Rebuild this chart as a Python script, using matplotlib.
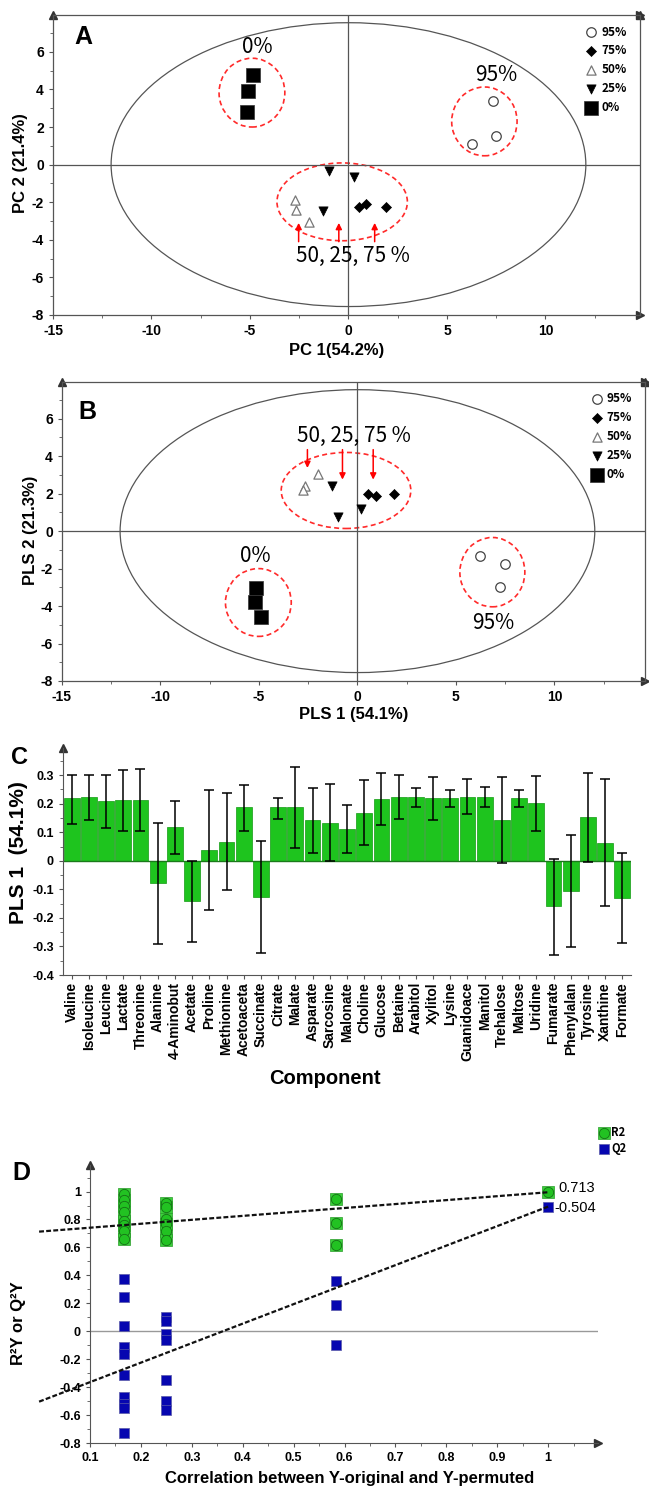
import numpy as np
import matplotlib
matplotlib.use("Agg")
import matplotlib.pyplot as plt
from matplotlib.patches import Ellipse
from matplotlib.ticker import MultipleLocator

plt.rcParams['font.family'] = ['Liberation Sans', 'DejaVu Sans']
plt.rcParams['font.weight'] = 'bold'
plt.rcParams['axes.unicode_minus'] = False
KR = ['Noto Sans CJK KR', 'DejaVu Sans']

# ---------------- data ----------------
groups = ["95%", "75%", "50%", "25%", "0%"]

# panel A : PCA scores (one list per group, same order as groups)
pca_x = [[7.32, 7.51, 6.27], [0.55, 0.89, 1.90], [-2.72, -2.68, -1.98],
         [-0.99, 0.27, -1.29], [-4.85, -5.10, -5.15]]
pca_y = [[3.38, 1.53, 1.08], [-2.23, -2.10, -2.28], [-1.87, -2.43, -3.06],
         [-0.34, -0.67, -2.46], [4.77, 3.92, 2.79]]
# panel B : PLS-DA scores
pls_x = [[6.22, 7.47, 7.25], [0.54, 0.93, 1.86], [-1.98, -2.66, -2.76],
         [-1.30, -1.00, 0.17], [-5.17, -5.20, -4.90]]
pls_y = [[-1.31, -1.77, -2.97], [1.98, 1.88, 1.96], [3.07, 2.41, 2.20],
         [2.41, 0.77, 1.20], [-3.05, -3.80, -4.60]]

hotelling_a = 12.05
hotelling_b = 7.55

# red dashed group ellipses: (cx, cy, half-width, half-height)
a_circles = [(-4.9, 3.83, 1.67, 1.83), (6.9, 2.3, 1.66, 1.83), (-0.32, -1.98, 3.31, 2.07)]
b_circles = [(-0.58, 2.17, 3.29, 2.03), (-5.03, -3.81, 1.67, 1.81), (6.85, -2.19, 1.65, 1.85)]
a_notes = [("0%", -4.64, 6.26), ("95%", 7.49, 4.77), ("50, 25, 75 %", 0.21, -4.84)]
b_notes = [("50, 25, 75 %", -0.17, 5.09), ("0%", -5.17, -1.34), ("95%", 6.92, -4.90)]
a_arrows_x = [-2.53, -0.49, 1.33]
a_arrows_y = [(-4.10, -3.10), (-4.10, -3.10), (-4.10, -3.10)]
b_arrows_x = [-2.54, -0.76, 0.80]
b_arrows_y = [(4.35, 3.37), (4.35, 2.75), (4.35, 2.75)]

# panel C : PLS1 loadings with error bounds
metabolites = ["Valine", "Isoleucine", "Leucine", "Lactate", "Threonine", "Alanine",
               "4-Aminobut", "Acetate", "Proline", "Methionine", "Acetoaceta", "Succinate",
               "Citrate", "Malate", "Asparate", "Sarcosine", "Malonate", "Choline",
               "Glucose", "Betaine", "Arabitol", "Xylitol", "Lysine", "Guanidoace",
               "Manitol", "Trehalose", "Maltose", "Uridine", "Fumarate", "Phenylalan",
               "Tyrosine", "Xanthine", "Formate"]
loading = [0.219, 0.223, 0.209, 0.212, 0.212, -0.078, 0.119, -0.141, 0.037, 0.067, 0.187,
           -0.128, 0.187, 0.190, 0.142, 0.133, 0.112, 0.169, 0.217, 0.223, 0.223, 0.219,
           0.219, 0.225, 0.225, 0.142, 0.219, 0.202, -0.160, -0.106, 0.154, 0.064, -0.132]
err_high = [0.301, 0.301, 0.301, 0.319, 0.322, 0.132, 0.211, 0.000, 0.249, 0.236, 0.265,
            0.069, 0.221, 0.330, 0.254, 0.268, 0.196, 0.284, 0.306, 0.300, 0.254, 0.295,
            0.249, 0.286, 0.259, 0.292, 0.249, 0.298, 0.006, 0.089, 0.307, 0.287, 0.026]
err_low = [0.130, 0.142, 0.114, 0.106, 0.104, -0.291, 0.025, -0.286, -0.173, -0.102, 0.106,
           -0.323, 0.148, 0.046, 0.027, -0.002, 0.027, 0.054, 0.126, 0.147, 0.189, 0.144,
           0.189, 0.163, 0.189, -0.009, 0.189, 0.106, -0.329, -0.301, -0.003, -0.158, -0.289]

# panel D : permutation test
r2_x = [0.167, 0.167, 0.167, 0.167, 0.167, 0.167, 0.167, 0.167,
        0.25, 0.25, 0.25, 0.25, 0.25, 0.25, 0.583, 0.583, 0.583, 1.0]
r2_y = [0.98, 0.94, 0.90, 0.85, 0.79, 0.76, 0.72, 0.66,
        0.92, 0.89, 0.80, 0.77, 0.72, 0.65, 0.947, 0.773, 0.617, 0.995]
q2_x = [0.167, 0.167, 0.167, 0.167, 0.167, 0.167, 0.167, 0.167, 0.167, 0.167,
        0.25, 0.25, 0.25, 0.25, 0.25, 0.25, 0.25, 0.583, 0.583, 0.583, 1.0]
q2_y = [0.371, 0.246, 0.041, -0.112, -0.16, -0.316, -0.47, -0.52, -0.55, -0.725,
        0.103, 0.074, -0.017, -0.065, -0.352, -0.50, -0.567, 0.361, 0.187, -0.096, 0.892]
r2_intercept = 0.713
q2_intercept = -0.504

# ---------------- layout helpers ----------------
W, H = 649, 1488
fig = plt.figure(figsize=(W / 100, H / 100), dpi=100)


def box(l, t, r, b):
    return [l / W, 1 - b / H, (r - l) / W, (b - t) / H]


def ftext(px, py, s, **kw):
    fig.text(px / W, 1 - py / H, s, ha='center', va='center', **kw)


def arrow_ends(ax, ends):
    for x, y, m in ends:
        ax.plot(x, y, marker=m, color='#333', ms=6, transform=ax.transAxes, clip_on=False)


styles = [dict(marker='o', s=47, facecolors='white', edgecolors='#444', linewidths=0.9),
          dict(marker='D', s=26, facecolors='black', edgecolors='black', linewidths=0.5),
          dict(marker='^', s=44, facecolors='white', edgecolors='#777', linewidths=0.9),
          dict(marker='v', s=44, facecolors='black', edgecolors='black', linewidths=0.5),
          dict(marker='s', s=88, facecolors='black', edgecolors='#333', linewidths=0.5)]


def score_panel(ax, xs, ys, circles, notes, arr_x, arr_y, xlim, ylim, leg_anchor):
    ax.set_xlim(xlim)
    ax.set_ylim(ylim)
    ax.add_patch(Ellipse((0, 0), 2 * hotelling_a, 2 * hotelling_b, fill=False,
                         ec='#555', lw=0.9))
    ax.axhline(0, color='#555', lw=0.9)
    ax.axvline(0, color='#555', lw=0.9)
    for cx, cy, a, b in circles:
        ax.add_patch(Ellipse((cx, cy), 2 * a, 2 * b, fill=False, ec='#ff2a2a',
                             lw=1.2, ls=(0, (3, 2))))
    hs = []
    for g, x, y, st in zip(groups, xs, ys, styles):
        hs.append(ax.scatter(x, y, label=g, zorder=3, **st))
    for s, x, y in notes:
        ax.text(x, y, s, ha='center', va='center', fontsize=15, family=KR,
                fontweight='normal')
    for x, (y0, y1) in zip(arr_x, arr_y):
        ax.annotate('', xy=(x, y1), xytext=(x, y0),
                    arrowprops=dict(arrowstyle='-|>', color='red', lw=1.1,
                                    mutation_scale=9, shrinkA=0, shrinkB=0))
    ax.legend(handles=hs, loc='upper left', bbox_to_anchor=leg_anchor, frameon=False,
              prop=dict(family=KR, weight='bold', size=8.5), handletextpad=0.25,
              labelspacing=0.5, borderpad=0, borderaxespad=0, handlelength=1.2,
              scatterpoints=1)
    ax.xaxis.set_major_locator(MultipleLocator(5))
    ax.xaxis.set_minor_locator(MultipleLocator(2.5))
    ax.yaxis.set_major_locator(MultipleLocator(2))
    ax.yaxis.set_minor_locator(MultipleLocator(1))
    ax.tick_params(labelsize=10, length=3, color='#555', which='both')
    ax.tick_params(which='minor', length=2)
    for sp in ax.spines.values():
        sp.set_color('#555')
        sp.set_linewidth(0.9)
    arrow_ends(ax, [(0, 1, '^'), (1, 0, '>'), (1, 1, '>'), (1, 1, '^')])


# ---------------- panel A ----------------
axA = fig.add_axes(box(53, 15, 640, 315))
score_panel(axA, pca_x, pca_y, a_circles, a_notes, a_arrows_x, a_arrows_y,
            (-15, 14.8), (-8, 7.96), (0.905, 0.965))
ftext(83, 37, "A", fontsize=18)
ftext(21, 163, "PC 2 (21.4%)", fontsize=12, rotation=90)
ftext(337, 350, "PC 1(54.2%)", fontsize=12)

# ---------------- panel B ----------------
axB = fig.add_axes(box(62, 382, 645, 681))
score_panel(axB, pls_x, pls_y, b_circles, b_notes, b_arrows_x, b_arrows_y,
            (-15, 14.6), (-8, 7.96), (0.905, 0.965))
ftext(87, 412, "B", fontsize=18)
ftext(31, 530, "PLS 2 (21.3%)", fontsize=12, rotation=90)
ftext(354, 715, "PLS 1 (54.1%)", fontsize=12)

# ---------------- panel C ----------------
axC = fig.add_axes(box(63, 748, 631, 975))
pos = np.arange(len(metabolites))
load = np.array(loading)
axC.bar(pos, load, width=0.92, color='#1ec41e', edgecolor='#139a13', lw=0.5, zorder=2)
axC.errorbar(pos, load, yerr=[load - np.array(err_low), np.array(err_high) - load],
             fmt='none', ecolor='black', elinewidth=1.1, capsize=3.5, capthick=1.1, zorder=3)
axC.axhline(0, color='#1a7a1a', lw=1, zorder=2)
axC.set_xlim(-0.5, 32.5)
axC.set_ylim(-0.4, 0.395)
axC.set_xticks(pos)
axC.set_xticklabels(metabolites, rotation=90, fontsize=10)
axC.yaxis.set_minor_locator(MultipleLocator(0.05))
axC.set_yticks([0.3, 0.2, 0.1, 0, -0.1, -0.2, -0.3, -0.4])
axC.set_yticklabels(["0.3", "0.2", "0.1", "0", "-0.1", "-0.2", "-0.3", "-0.4"])
axC.tick_params(axis='y', labelsize=9, length=3, color='#555', which='both')
axC.tick_params(axis='y', which='minor', length=2)
axC.tick_params(axis='x', length=3, color='#555', pad=2)
axC.spines['top'].set_visible(False)
axC.spines['right'].set_visible(False)
for s in ['left', 'bottom']:
    axC.spines[s].set_color('#555')
arrow_ends(axC, [(0, 1, '^')])
ftext(19, 758, "C", fontsize=17)
ftext(19, 853, "PLS 1  (54.1%)", fontsize=15, rotation=90)
ftext(325, 1079, "Component", fontsize=14.5)

# ---------------- panel D ----------------
axD = fig.add_axes(box(90, 1165, 598, 1443))
axD.set_xlim(0.1, 1.098)
axD.set_ylim(-0.8, 1.19)
axD.axhline(0, color='#999', lw=1)
axD.plot([0, r2_x[-1]], [r2_intercept, r2_y[-1]], color='#111', lw=1.6,
         ls=(0, (2.2, 1)), clip_on=False, zorder=4)
axD.plot([0, q2_x[-1]], [q2_intercept, q2_y[-1]], color='#111', lw=1.6,
         ls=(0, (2.2, 1)), clip_on=False, zorder=4)
h_sq = axD.scatter(r2_x, r2_y, marker='s', s=70, c='#3bd23b', edgecolors='#2a9a2a',
                   linewidths=0.5, zorder=2)
h_ci = axD.scatter(r2_x, r2_y, marker='o', s=55, c='#22c222', edgecolors='#157015',
                   linewidths=0.6, zorder=3)
h_q = axD.scatter(q2_x, q2_y, marker='s', s=55, c='#0606b0', edgecolors='#5a5aa8',
                  linewidths=0.5, zorder=3)
axD.text(1.056, 1.025, "0.713", fontsize=10.5, fontweight='normal', ha='center', va='center')
axD.text(1.054, 0.885, "-0.504", fontsize=10.5, fontweight='normal', ha='center', va='center')
axD.legend([(h_sq, h_ci), h_q], ["R2", "Q2"], loc='upper left', bbox_to_anchor=(1.0, 1.14),
           frameon=False, prop=dict(family=KR, weight='bold', size=8), handletextpad=0.2,
           labelspacing=0.3, borderpad=0, borderaxespad=0, handlelength=1.0)
axD.xaxis.set_minor_locator(MultipleLocator(0.05))
axD.yaxis.set_minor_locator(MultipleLocator(0.1))
axD.set_xticks([0.1, 0.2, 0.3, 0.4, 0.5, 0.6, 0.7, 0.8, 0.9, 1.0])
axD.set_xticklabels(["0.1", "0.2", "0.3", "0.4", "0.5", "0.6", "0.7", "0.8", "0.9", "1"])
axD.set_yticks([-0.8, -0.6, -0.4, -0.2, 0, 0.2, 0.4, 0.6, 0.8, 1.0])
axD.set_yticklabels(["-0.8", "-0.6", "-0.4", "-0.2", "0", "0.2", "0.4", "0.6", "0.8", "1"])
axD.tick_params(labelsize=9, length=3, color='#555', which='both')
axD.tick_params(which='minor', length=2)
axD.spines['top'].set_visible(False)
axD.spines['right'].set_visible(False)
for s in ['left', 'bottom']:
    axD.spines[s].set_color('#555')
arrow_ends(axD, [(0, 1, '^'), (1, 0, '>')])
ftext(21, 1173, "D", fontsize=18)
ftext(19, 1323, "R²Y or Q²Y", fontsize=12, rotation=90)
ftext(350, 1478, "Correlation between Y-original and Y-permuted", fontsize=12)

fig.savefig("out.png", dpi=100)
